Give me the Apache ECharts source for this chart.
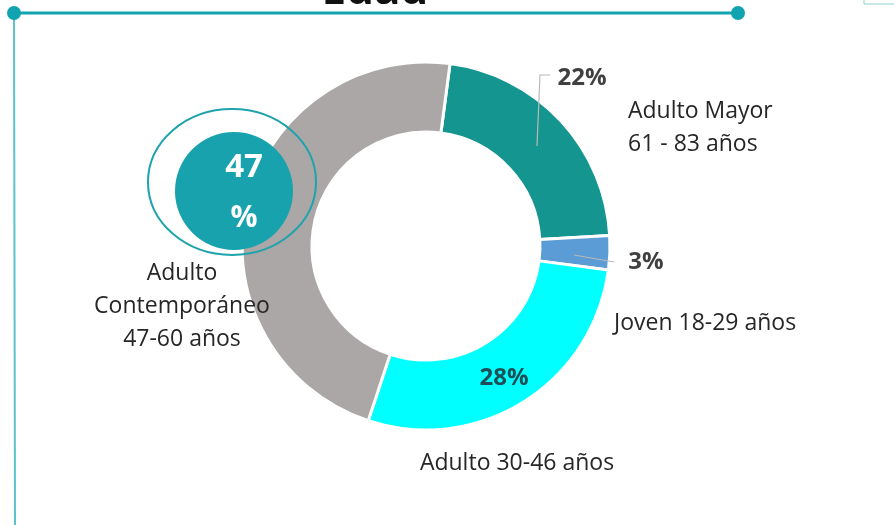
<!DOCTYPE html>
<html>
<head>
<meta charset="utf-8">
<script src="https://cdn.jsdelivr.net/npm/echarts@6/dist/echarts.min.js"></script>
<style>
  html, body { margin: 0; padding: 0; background: #fff; }
  #chart { width: 894px; height: 525px; }
</style>
</head>
<body>
<div id="chart"></div>
<script>
// age groups, clockwise from the top
const groups = ['Adulto Mayor\n61 - 83 años', 'Joven 18-29 años', 'Adulto 30-46 años', 'Adulto\nContemporáneo\n47-60 años'];
const shares = [22, 3, 28, 47];
const colors = ['#14958f', '#5b9bd6', '#00ffff', '#aaa7a6'];
const title = 'Edad';

const FONT = '"Open Sans", Lato, sans-serif';
const center = [426, 246];

let chart = echarts.init(document.getElementById('chart'));

// where each label goes (percent label, then group name)
const pctPos = [[582, 78], [646, 262], [504, 378], null];
const namePos = [[628, 128], [614, 323], [517, 463], [182, 306]];

const option = {
    animation: false,
    series: [{
        type: 'pie',
        z: 2,
        center: center,
        radius: [114, 184],
        startAngle: 82.5,
        clockwise: true,
        avoidLabelOverlap: false,
        itemStyle: { borderColor: '#fff', borderWidth: 3 },
        label: {
            show: true,
            formatter: '{c}%',
            fontFamily: FONT,
            fontWeight: 'bold',
            fontSize: 24,
            color: '#404040'
        },
        labelLine: { show: false },
        labelLayout: function (p) {
            const pos = pctPos[p.dataIndex];
            if (!pos) return {};
            return { x: pos[0], y: pos[1], align: 'center', verticalAlign: 'middle' };
        },
        data: shares.map(function (v, i) {
            const d = { value: v, name: groups[i], itemStyle: { color: colors[i] } };
            if (i === 2) {
                d.label = { position: 'inside', color: '#1e4f57' };
            }
            if (i === 3) {
                d.label = { show: false };
            }
            return d;
        })
    }],
    graphic: [
        // frame lines
        { type: 'line', z: 10, shape: { x1: 14, y1: 13, x2: 738, y2: 13 }, style: { stroke: '#12a3b0', lineWidth: 3 } },
        { type: 'line', z: 10, shape: { x1: 14, y1: 13, x2: 15, y2: 525 }, style: { stroke: '#5cc3cc', lineWidth: 2 } },
        { type: 'circle', z: 10, shape: { cx: 14, cy: 13, r: 7 }, style: { fill: '#12a3b0' } },
        { type: 'circle', z: 10, shape: { cx: 738, cy: 13, r: 7 }, style: { fill: '#12a3b0' } },
        { type: 'rect', z: 10, shape: { x: 864, y: -20, width: 60, height: 24 }, style: { fill: 'none', stroke: '#8fd3da', lineWidth: 1 } },
        {
            type: 'text', z: 9, x: 375, y: -9,
            style: { text: title, font: 'bold 44px ' + FONT, fill: '#111', align: 'center', verticalAlign: 'middle' }
        },
        // leader lines
        { type: 'polyline', z: 10, shape: { points: [[537, 146], [540, 75], [550, 75]] }, style: { fill: 'none', stroke: '#b9b9b9', lineWidth: 1.2 } },
        { type: 'polyline', z: 10, shape: { points: [[574, 255], [614, 262]] }, style: { fill: 'none', stroke: '#b9b9b9', lineWidth: 1.2 } },
        // 47% bubble
        { type: 'ellipse', z: 10, shape: { cx: 232, cy: 182, rx: 84, ry: 73 }, style: { fill: 'none', stroke: '#1fa3ad', lineWidth: 2 } },
        { type: 'circle', z: 10, shape: { cx: 234, cy: 191, r: 59 }, style: { fill: '#18a2ad' } },
        {
            type: 'text', z: 11, x: 244, y: 168,
            style: { text: shares[3] + '', font: 'bold 33px ' + FONT, fill: '#fff', align: 'center', verticalAlign: 'middle' }
        },
        {
            type: 'text', z: 11, x: 244, y: 218,
            style: { text: '%', font: 'bold 30px ' + FONT, fill: '#fff', align: 'center', verticalAlign: 'middle' }
        }
    ].concat(groups.map(function (g, i) {
        const p = namePos[i];
        return {
            type: 'text', z: 11, x: p[0], y: p[1],
            style: {
                text: g, font: '23px ' + FONT, fill: '#262626', lineHeight: 33,
                align: i === 0 || i === 1 ? 'left' : 'center', verticalAlign: 'middle'
            }
        };
    }))
};

chart.setOption(option);
</script>
</body>
</html>
